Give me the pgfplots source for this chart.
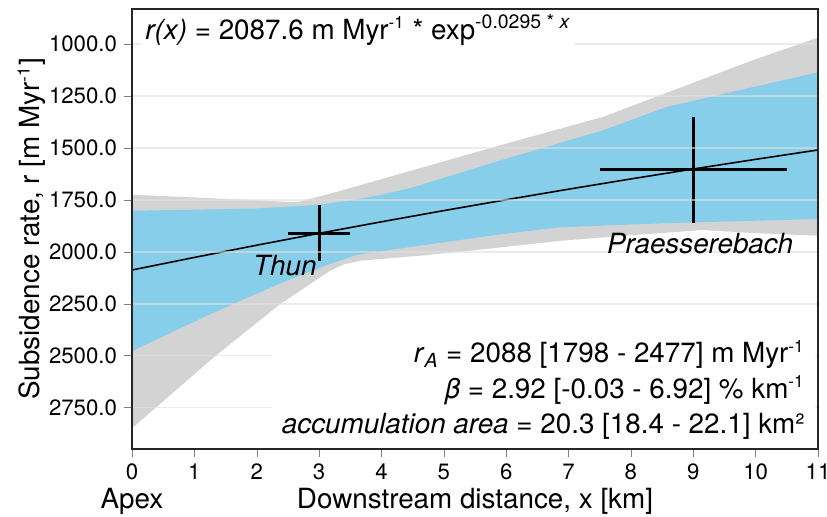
\documentclass[border=0pt]{standalone}
\usepackage{fontspec}
\setmainfont{TeX Gyre Heros}
\usepackage{pgfplots}
\pgfplotsset{compat=1.18}
\definecolor{bandblue}{RGB}{135,206,235}
\definecolor{bandgrey}{RGB}{211,211,211}
\newcommand{\sups}[1]{\textsuperscript{\fontsize{8.5}{9}\selectfont #1}}
\begin{document}
\begin{tikzpicture}
\begin{axis}[
  scale only axis, width=343pt, height=220pt,
  xmin=0, xmax=11, ymin=830, ymax=2950, y dir=reverse,
  xtick={0,1,...,11}, ytick={1000,1250,1500,1750,2000,2250,2500,2750},
  yticklabel style={/pgf/number format/.cd, fixed, fixed zerofill, precision=1, 1000 sep={}},
  /pgf/number format/assume math mode=true,
  tick label style={font=\fontsize{11.1}{13}\selectfont},
  label style={font=\fontsize{13.9}{16}\selectfont},
  xlabel={Downstream distance, x [km]},
  ylabel={Subsidence rate, r [m Myr\sups{-1}]},
  xlabel style={at={(axis description cs:0.5,0)}, anchor=base, yshift=-29.5pt},
  ylabel style={at={(axis description cs:0,0.5)}, anchor=base, yshift=46pt},
  tick align=outside, major tick length=4pt, tick pos=left,
  ymajorgrids, grid style={gray!25, opacity=0.6, line width=0.8pt},
  axis line style={black!85, line width=1pt},
  axis on top,
]
\addplot[fill=bandgrey, draw=none, forget plot] coordinates {
 (0,1725) (1,1738) (2,1752) (2.65,1761) (3.2,1718) (4.3,1624) (6.22,1460) (7.55,1350) (9.96,1076) (11,968)
 (11,1922) (10,1910) (9.15,1895) (8,1920) (6.86,1947) (5.5,1992) (4.6,2019) (3.66,2043) (3.4,2060) (3.17,2092) (2.37,2253) (1.3,2511) (0,2850)
} --cycle;
\addplot[fill=bandblue, draw=none, forget plot] coordinates {
 (0,1802) (1,1797) (2,1791) (3,1773) (3.5,1752) (4,1725) (4.5,1690) (5.2,1625) (5.9,1560) (7.55,1415) (8.57,1302) (11,1135)
 (11,1842) (10,1850) (9,1858) (8,1868) (6.86,1882) (6,1912) (4.78,1963) (3.6,2015) (3.17,2059) (2.37,2153) (1.3,2294) (0,2478)
} --cycle;
\addplot[black, line width=0.8pt, mark=none] coordinates {
 (0,2087.6) (1,2026.9) (2,1968.0) (3,1910.8) (4,1855.2) (5,1801.3) (6,1749.0) (7,1698.1) (8,1648.7) (9,1600.8) (10,1554.3) (11,1509.1)
};
\addplot[draw=none, mark=none,
  error bars/.cd, x dir=both, x explicit, y dir=both, y explicit, error mark=none,
  error bar style={draw=black, line width=1.5pt}] coordinates {
 (3,1911) +- (0.5,135)
 (9,1605) +- (1.5,257)
};
\coordinate (SW) at (axis description cs:0,0);
\coordinate (SE) at (axis description cs:1,0);
\coordinate (NW) at (axis description cs:0,1);
\coordinate (NE) at (axis description cs:1,1);
\coordinate (thun) at (axis cs:2.45,2115);
\coordinate (praes) at (axis cs:9.11,2010);
\end{axis}
\node[anchor=base, font=\fontsize{13.9}{16}\selectfont\itshape] at (thun) {Thun};
\node[anchor=base, font=\fontsize{13.9}{16}\selectfont\itshape] at (praes) {Praesserebach};
\node[anchor=base, font=\fontsize{13.9}{16}\selectfont, yshift=-29.5pt] at (SW) {Apex};
\node[fill=white, inner xsep=2pt, inner ysep=1.5pt, anchor=base west, xshift=4.5pt, yshift=-15pt,
  font=\fontsize{13.9}{16}\selectfont] at (NW)
  {\textit{r(x)} = 2087.6 m Myr\sups{-1} * exp\textsuperscript{-0.0295 * \textit{x}}};
\node[fill=white, align=right, anchor=south east, inner xsep=5pt, inner ysep=3pt, xshift=-1.5pt, yshift=1.5pt,
  font=\fontsize{13.9}{17.75}\selectfont] at (SE)
  {\textit{r}\textsubscript{\textit{A}} = 2088 [1798 - 2477] m Myr\sups{-1}\\
   \textit{β} = 2.92 [-0.03 - 6.92] \% km\sups{-1}\\
   \textit{accumulation area} = 20.3 [18.4 - 22.1] km²};
\pgfresetboundingbox
\path ([xshift=-66pt,yshift=-33.5pt]SW) rectangle ([xshift=4.5pt,yshift=4.5pt]NE);
\end{tikzpicture}
\end{document}
